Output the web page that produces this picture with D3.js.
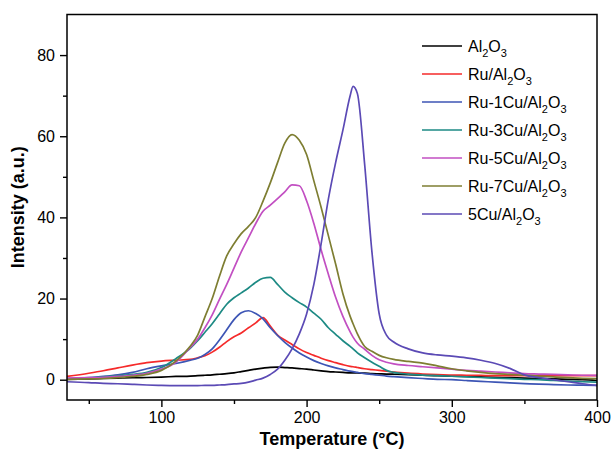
<!DOCTYPE html>
<html lang="en">
<head>
<meta charset="UTF-8">
<title>TPR profiles</title>
<script src="https://cdn.jsdelivr.net/npm/d3@7/dist/d3.min.js"></script>
<style>
  body { margin: 0; background: #fff; }
  text { font-family: "Liberation Sans", Arial, sans-serif; }
</style>
</head>
<body>
<script>
// temperature grid (°C) shared by all curves
const temps = [35, 50, 60, 70, 80, 90, 100, 110, 120, 125, 130, 135, 140, 145, 150, 155, 160, 165, 170, 175,
  180, 185, 190, 195, 200, 205, 210, 215, 220, 225, 230, 232, 235, 240, 245, 250, 255, 260, 270, 280,
  290, 300, 310, 320, 330, 340, 350, 360, 370, 380, 390, 400];

const al2o3 = [0.1, 0.2, 0.3, 0.4, 0.5, 0.55, 0.65, 0.8, 0.9, 1.0, 1.1, 1.2, 1.35, 1.5, 1.7, 2.0, 2.3, 2.6, 2.85, 3.05,
  3.1, 3.0, 2.9, 2.75, 2.6, 2.4, 2.2, 2.0, 1.9, 1.8, 1.7, 1.7, 1.65, 1.6, 1.5, 1.45, 1.4, 1.35, 1.25, 1.1,
  1.0, 0.9, 0.8, 0.7, 0.6, 0.5, 0.4, 0.3, 0.2, 0.1, 0.0, -0.2];
const ru = [0.8, 1.6, 2.2, 2.9, 3.6, 4.2, 4.6, 4.8, 5.0, 5.4, 5.9, 6.8, 8.0, 9.4, 10.6, 11.5, 12.8, 14.0, 15.3, 13.2,
  11.0, 9.8, 8.7, 7.6, 6.7, 6.0, 5.3, 4.7, 4.2, 3.7, 3.3, 3.2, 3.0, 2.7, 2.5, 2.3, 2.1, 1.9, 1.6, 1.4,
  1.25, 1.15, 1.1, 1.05, 1.0, 1.0, 1.0, 1.0, 1.0, 1.0, 1.0, 1.0];
const ru1cu = [0.25, 0.5, 0.8, 1.2, 1.8, 2.7, 3.4, 4.0, 4.8, 5.3, 6.2, 7.6, 9.8, 12.3, 14.8, 16.5, 17.0, 16.3, 15.0, 12.8,
  10.9, 9.2, 7.8, 6.6, 5.6, 4.7, 4.0, 3.4, 2.9, 2.5, 2.1, 2.0, 1.8, 1.5, 1.3, 1.1, 0.9, 0.75, 0.5, 0.3,
  0.1, 0.0, -0.2, -0.4, -0.6, -0.8, -0.95, -1.1, -1.2, -1.3, -1.35, -1.4];
const ru3cu = [0.2, 0.4, 0.7, 1.0, 1.3, 1.8, 3.0, 5.2, 7.8, 9.6, 11.7, 13.8, 16.2, 18.6, 20.2, 21.4, 22.6, 24.0, 25.0, 25.2,
  23.5, 21.6, 20.2, 19.0, 17.9, 16.4, 14.9, 12.8, 11.2, 9.6, 8.2, 7.6, 6.6, 5.4, 4.3, 3.3, 2.3, 1.8, 1.4, 1.15,
  1.0, 0.85, 0.7, 0.55, 0.4, 0.25, 0.1, 0.0, -0.2, -0.35, -0.5, -0.6];
const ru5cu = [0.4, 0.5, 0.6, 0.8, 1.1, 1.6, 2.6, 4.3, 8.0, 10.0, 12.8, 16.0, 19.8, 23.5, 27.5, 31.5, 35.0, 38.5, 41.5, 43.0,
  44.6, 46.3, 48.0, 47.8, 44.1, 38.5, 32.0, 26.0, 20.3, 15.6, 11.8, 10.5, 9.0, 7.5, 6.0, 4.9, 4.3, 3.9, 3.5, 3.2,
  2.9, 2.6, 2.3, 2.1, 1.9, 1.7, 1.5, 1.4, 1.3, 1.2, 1.1, 1.06];
const ru7cu = [0.1, 0.2, 0.3, 0.5, 0.8, 1.3, 2.3, 4.6, 8.3, 11.0, 15.5, 20.0, 25.5, 30.5, 33.5, 36.0, 37.8, 40.0, 44.0, 48.5,
  53.5, 58.3, 60.4, 59.0, 55.5, 49.0, 42.5, 35.5, 28.5, 21.2, 15.6, 13.8, 11.3, 8.2, 7.0, 6.0, 5.4, 5.0, 4.5, 4.1,
  3.4, 2.7, 2.2, 1.8, 1.5, 1.3, 1.1, 0.9, 0.7, 0.5, 0.35, 0.25];
const cu5 = [-0.5, -0.7, -0.9, -1.0, -1.15, -1.3, -1.4, -1.45, -1.45, -1.45, -1.4, -1.4, -1.3, -1.2, -1.05, -0.9, -0.6, -0.1, 0.4, 1.3,
  2.6, 4.8, 7.6, 11.3, 16.2, 23.5, 33.5, 44.5, 53.5, 61.5, 70.0, 72.3, 70.5, 53.0, 31.5, 16.2, 11.0, 9.3, 7.6, 6.6,
  6.1, 5.8, 5.4, 4.8, 4.0, 2.8, 1.2, 0.5, 0.0, -0.5, -1.0, -1.4];

const seriesNames = [["Al", "2", "O", "3"], ["Ru/Al", "2", "O", "3"], ["Ru-1Cu/Al", "2", "O", "3"],
  ["Ru-3Cu/Al", "2", "O", "3"], ["Ru-5Cu/Al", "2", "O", "3"], ["Ru-7Cu/Al", "2", "O", "3"], ["5Cu/Al", "2", "O", "3"]];
const seriesValues = [al2o3, ru, ru1cu, ru3cu, ru5cu, ru7cu, cu5];
const seriesColors = ["#000000", "#f52a2a", "#3d55b5", "#1d8a84", "#c24fc2", "#7e7e32", "#5b4ab5"];

const xMajor = [100, 200, 300, 400];
const xMinor = [50, 150, 250, 350];
const yMajor = [0, 20, 40, 60, 80];
const yMinor = [10, 30, 50, 70];

const width = 611, height = 450;
const m = { left: 67, right: 597, top: 14.5, bottom: 400 };

const svg = d3.select("body").append("svg")
  .attr("width", width)
  .attr("height", height);

const x = d3.scaleLinear().domain([35, 400]).range([m.left, m.right]);
const y = d3.scaleLinear().domain([-5, 90]).range([m.bottom, m.top]);

svg.append("clipPath").attr("id", "plot")
  .append("rect")
  .attr("x", m.left).attr("y", m.top)
  .attr("width", m.right - m.left).attr("height", m.bottom - m.top);

// curves
const line = d3.line()
  .x(d => x(d[0]))
  .y(d => y(d[1]))
  .curve(d3.curveMonotoneX);

svg.append("g").attr("clip-path", "url(#plot)")
  .selectAll("path")
  .data(seriesValues)
  .enter().append("path")
  .attr("fill", "none")
  .attr("stroke", (d, i) => seriesColors[i])
  .attr("stroke-width", 1.7)
  .attr("d", vals => line(temps.map((t, j) => [t, vals[j]])));

// axes
function styleAxis(g) {
  g.select(".domain").remove();
  g.selectAll("line").attr("stroke", "#000").attr("stroke-width", 1.4);
  g.selectAll("text").attr("font-size", 16).attr("fill", "#000");
}

svg.append("g")
  .attr("transform", `translate(0,${m.bottom})`)
  .call(d3.axisBottom(x).tickValues(xMajor).tickSize(7).tickPadding(5))
  .call(styleAxis);
svg.append("g")
  .attr("transform", `translate(0,${m.bottom})`)
  .call(d3.axisBottom(x).tickValues(xMinor).tickSize(4).tickFormat(""))
  .call(styleAxis);

svg.append("g")
  .attr("transform", `translate(${m.left},0)`)
  .call(d3.axisLeft(y).tickValues(yMajor).tickSize(7).tickPadding(5))
  .call(styleAxis);
svg.append("g")
  .attr("transform", `translate(${m.left},0)`)
  .call(d3.axisLeft(y).tickValues(yMinor).tickSize(4).tickFormat(""))
  .call(styleAxis);

// frame
svg.append("rect")
  .attr("x", m.left).attr("y", m.top)
  .attr("width", m.right - m.left).attr("height", m.bottom - m.top)
  .attr("fill", "none")
  .attr("stroke", "#000")
  .attr("stroke-width", 1.5);

// axis titles
svg.append("text")
  .attr("x", (m.left + m.right) / 2)
  .attr("y", 445)
  .attr("text-anchor", "middle")
  .attr("font-size", 18)
  .attr("font-weight", "bold")
  .text("Temperature (°C)");

svg.append("text")
  .attr("transform", `translate(24,${(m.top + m.bottom) / 2}) rotate(-90)`)
  .attr("text-anchor", "middle")
  .attr("font-size", 18)
  .attr("font-weight", "bold")
  .text("Intensity (a.u.)");

// legend
const legend = svg.append("g");
seriesNames.forEach((parts, i) => {
  const ly = 46 + i * 28;
  legend.append("line")
    .attr("x1", 422).attr("x2", 462)
    .attr("y1", ly).attr("y2", ly)
    .attr("stroke", seriesColors[i])
    .attr("stroke-width", 1.7);
  const t = legend.append("text")
    .attr("x", 468).attr("y", ly + 6)
    .attr("font-size", 16)
    .attr("fill", "#000");
  t.append("tspan").text(parts[0]);
  t.append("tspan").attr("font-size", 11).attr("dy", 5).text(parts[1]);
  t.append("tspan").attr("dy", -5).text(parts[2]);
  t.append("tspan").attr("font-size", 11).attr("dy", 5).text(parts[3]);
});
</script>
</body>
</html>
